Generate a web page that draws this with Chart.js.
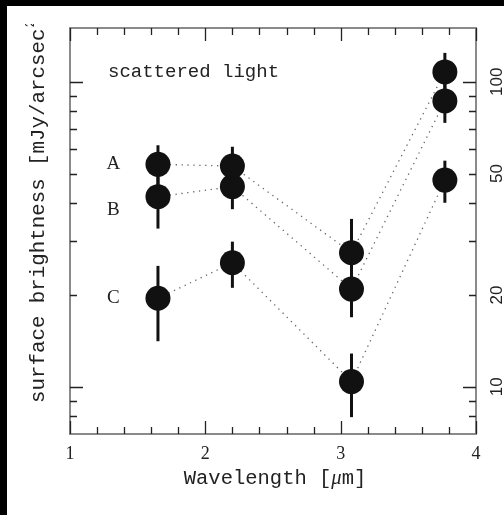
<!DOCTYPE html>
<html>
<head>
<meta charset="utf-8">
<script src="https://cdn.jsdelivr.net/npm/chart.js@4.4.1/dist/chart.umd.min.js"></script>
<style>
  html, body { margin: 0; padding: 0; background: #fff; }
  canvas { display: block; }
</style>
</head>
<body>
<canvas id="grafica" width="504" height="515"></canvas>
<script>
// Datos: brillo superficial de la luz dispersada (A, B, C) vs longitud de onda
const wavelengths = [1.65, 2.2, 3.08, 3.77];

const seriesA = [53.6, 52.9, 27.5, 107.7];
const seriesB = [42.0, 45.3, 20.9, 86.5];
const seriesC = [19.5, 25.5, 10.4, 47.6];

const errA = [8.3, 8.3, 8.0, 16.6];
const errB = [9.0, 7.1, 4.0, 13.2];
const errC = [5.4, 4.4, 2.45, 7.5];

const seriesNames = ['A', 'B', 'C'];

// Marcas de los ejes
const xMajorTicks = [1, 2, 3, 4];
const xMinorTicks = [1.2, 1.4, 1.6, 1.8, 2.2, 2.4, 2.6, 2.8, 3.2, 3.4, 3.6, 3.8];
const yMajorTicks = [10, 100];
const yMinorTicks = [8, 9, 20, 30, 40, 50, 60, 70, 80, 90];
const yTickLabels = [10, 20, 50, 100];

const todasSeries = [seriesA, seriesB, seriesC];
const todosErrores = [errA, errB, errC];

function puntos(valores) {
    return wavelengths.map((x, i) => ({ x: x, y: valores[i] }));
}

const datasets = [];
todasSeries.forEach((serie, i) => {
    datasets.push({
        type: 'line',
        label: seriesNames[i],
        data: puntos(serie),
        borderColor: '#666',
        borderWidth: 1.3,
        borderDash: [1.3, 4.6],
        pointRadius: 0,
        fill: false,
        tension: 0,
        order: 2
    });
});
todasSeries.forEach((serie, i) => {
    datasets.push({
        type: 'scatter',
        label: seriesNames[i] + ' puntos',
        data: puntos(serie),
        backgroundColor: '#111',
        borderWidth: 0,
        pointRadius: 12.5,
        order: 1
    });
});

const ejesPlugin = {
    id: 'ejes',
    beforeDraw(chart) {
        const ctx = chart.ctx;
        ctx.save();
        ctx.fillStyle = '#fff';
        ctx.fillRect(0, 0, chart.width, chart.height);
        // bordes negros del recorte
        ctx.fillStyle = '#000';
        ctx.fillRect(0, 0, chart.width, 6);
        ctx.fillRect(0, 0, 7, chart.height);
        ctx.restore();
    },
    afterDatasetsDraw(chart) {
        // barras de error verticales
        const ctx = chart.ctx;
        const xs = chart.scales.x, ys = chart.scales.y;
        ctx.save();
        ctx.strokeStyle = '#111';
        ctx.lineWidth = 3;
        todasSeries.forEach((serie, s) => {
            serie.forEach((v, i) => {
                const e = todosErrores[s][i];
                const px = xs.getPixelForValue(wavelengths[i]);
                ctx.beginPath();
                ctx.moveTo(px, ys.getPixelForValue(v + e));
                ctx.lineTo(px, ys.getPixelForValue(v - e));
                ctx.stroke();
            });
        });
        ctx.restore();
    },
    afterDraw(chart) {
        const ctx = chart.ctx;
        const area = chart.chartArea;
        const xs = chart.scales.x, ys = chart.scales.y;
        const largo = 13, corto = 7;
        ctx.save();

        // marco
        ctx.strokeStyle = '#8a8a8a';
        ctx.lineWidth = 2;
        ctx.strokeRect(area.left, area.top, area.right - area.left, area.bottom - area.top);

        // marcas hacia dentro
        ctx.strokeStyle = '#222';
        ctx.lineWidth = 1.3;
        ctx.beginPath();
        const marcaX = (v, l) => {
            const px = Math.round(xs.getPixelForValue(v)) + 0.5;
            ctx.moveTo(px, area.bottom); ctx.lineTo(px, area.bottom - l);
            ctx.moveTo(px, area.top); ctx.lineTo(px, area.top + l);
        };
        const marcaY = (v, l) => {
            const py = Math.round(ys.getPixelForValue(v)) + 0.5;
            ctx.moveTo(area.left, py); ctx.lineTo(area.left + l, py);
            ctx.moveTo(area.right, py); ctx.lineTo(area.right - l, py);
        };
        xMajorTicks.forEach(v => marcaX(v, largo));
        xMinorTicks.forEach(v => marcaX(v, corto));
        yMajorTicks.forEach(v => marcaY(v, largo));
        yMinorTicks.forEach(v => marcaY(v, corto));
        ctx.stroke();

        ctx.fillStyle = '#222';

        // etiquetas eje x
        ctx.font = '18px "Liberation Serif"';
        ctx.textAlign = 'center';
        ctx.textBaseline = 'alphabetic';
        xMajorTicks.forEach(v => {
            ctx.fillText(String(v), xs.getPixelForValue(v), 459);
        });

        // etiquetas eje y (derecha, giradas)
        ctx.font = '17px "Liberation Sans"';
        yTickLabels.forEach(v => {
            ctx.save();
            ctx.translate(502, ys.getPixelForValue(v));
            ctx.rotate(-Math.PI / 2);
            ctx.fillText(String(v), 0, 0);
            ctx.restore();
        });

        // título eje x con mu en cursiva
        const mono = '20.5px "Liberation Mono"';
        const parte1 = 'Wavelength [', parte2 = 'μ', parte3 = 'm]';
        ctx.font = mono;
        const w1 = ctx.measureText(parte1).width;
        const w3 = ctx.measureText(parte3).width;
        ctx.font = 'italic 20.5px "Liberation Serif"';
        const w2 = ctx.measureText(parte2).width;
        let xt = (area.left + area.right) / 2 + 2 - (w1 + w2 + w3) / 2;
        ctx.textAlign = 'left';
        ctx.font = mono;
        ctx.fillText(parte1, xt, 484);
        ctx.font = 'italic 20.5px "Liberation Serif"';
        ctx.fillText(parte2, xt + w1, 484);
        ctx.font = mono;
        ctx.fillText(parte3, xt + w1 + w2, 484);

        // título eje y, recortado arriba
        ctx.save();
        ctx.beginPath();
        ctx.rect(7, 24, 60, 480);
        ctx.clip();
        ctx.translate(44, 403);
        ctx.rotate(-Math.PI / 2);
        ctx.font = '20.8px "Liberation Mono"';
        ctx.textAlign = 'left';
        const tit = 'surface brightness [mJy/arcsec';
        ctx.fillText(tit, 0, 0);
        const wt = ctx.measureText(tit).width;
        ctx.font = '13px "Liberation Mono"';
        ctx.fillText('2]', wt + 1, -10);
        ctx.restore();

        // rótulo y nombres de series
        ctx.font = '19px "Liberation Mono"';
        ctx.textAlign = 'left';
        ctx.fillText('scattered light', 108, 77);

        ctx.font = '19px "Liberation Serif"';
        ctx.textAlign = 'center';
        ctx.textBaseline = 'middle';
        const anclas = [[1.32, 53.6], [1.32, 37.9], [1.32, 19.5]];
        seriesNames.forEach((n, i) => {
            ctx.fillText(n, xs.getPixelForValue(anclas[i][0]), ys.getPixelForValue(anclas[i][1]));
        });

        ctx.restore();
    }
};

new Chart(document.getElementById('grafica').getContext('2d'), {
    data: { datasets: datasets },
    options: {
        responsive: false,
        animation: false,
        devicePixelRatio: 1,
        layout: { padding: { left: 70, right: 28, top: 28, bottom: 81 } },
        plugins: { legend: { display: false }, tooltip: { enabled: false } },
        scales: {
            x: { type: 'linear', min: 1, max: 4, display: false },
            y: { type: 'logarithmic', min: 7, max: 150, display: false }
        }
    },
    plugins: [ejesPlugin]
});
</script>
</body>
</html>
